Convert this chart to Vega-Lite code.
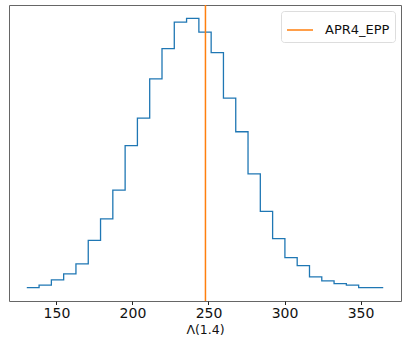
{
  "$schema": "https://vega.github.io/schema/vega-lite/v6.json",
  "width": 392,
  "height": 296,
  "autosize": {"type": "none"},
  "padding": {"left": 9, "top": 5, "right": 6, "bottom": 38},
  "background": "white",
  "config": {
    "view": {"stroke": "#666666", "strokeWidth": 1},
    "font": "DejaVu Sans",
    "axis": {"labelFont": "DejaVu Sans", "titleFont": "DejaVu Sans"},
    "legend": {"labelFont": "DejaVu Sans"}
  },
  "layer": [
    {
      "data": {
        "values": [
          {"edge": 130.5, "count": 38},
          {"edge": 138.58, "count": 45},
          {"edge": 146.67, "count": 61},
          {"edge": 154.75, "count": 79},
          {"edge": 162.83, "count": 109},
          {"edge": 170.92, "count": 180},
          {"edge": 179.0, "count": 245},
          {"edge": 187.08, "count": 331},
          {"edge": 195.17, "count": 465},
          {"edge": 203.25, "count": 548},
          {"edge": 211.33, "count": 666},
          {"edge": 219.42, "count": 757},
          {"edge": 227.5, "count": 837},
          {"edge": 235.58, "count": 848},
          {"edge": 243.67, "count": 807},
          {"edge": 251.75, "count": 745},
          {"edge": 259.83, "count": 608},
          {"edge": 267.92, "count": 507},
          {"edge": 276.0, "count": 380},
          {"edge": 284.08, "count": 267},
          {"edge": 292.17, "count": 185},
          {"edge": 300.25, "count": 128},
          {"edge": 308.33, "count": 104},
          {"edge": 316.42, "count": 70},
          {"edge": 324.5, "count": 58},
          {"edge": 332.58, "count": 50},
          {"edge": 340.67, "count": 45},
          {"edge": 348.75, "count": 38},
          {"edge": 356.83, "count": 38},
          {"edge": 364.92, "count": 38}
        ]
      },
      "mark": {"type": "line", "interpolate": "step-after", "color": "#1f77b4", "strokeWidth": 1.3},
      "encoding": {
        "x": {
          "field": "edge",
          "type": "quantitative",
          "scale": {"domain": [118.8, 376.6], "nice": false, "zero": false},
          "axis": {
            "title": "Λ(1.4)",
            "values": [150, 200, 250, 300, 350],
            "grid": false,
            "domain": false,
            "tickColor": "#222222",
            "tickSize": 3.5,
            "labelFontSize": 14,
            "labelColor": "#111111",
            "labelPadding": 2,
            "titleFontSize": 12.5,
            "titleFontWeight": "normal",
            "titleColor": "#111111",
            "titlePadding": 3
          }
        },
        "y": {
          "field": "count",
          "type": "quantitative",
          "scale": {"domain": [-2.5, 888.5], "nice": false, "zero": false},
          "axis": null
        }
      }
    },
    {
      "data": {"values": [{"value": 248.0, "label": "APR4_EPP"}]},
      "mark": {"type": "rule", "strokeWidth": 1.5},
      "encoding": {
        "x": {"field": "value", "type": "quantitative"},
        "color": {
          "field": "label",
          "type": "nominal",
          "scale": {"domain": ["APR4_EPP"], "range": ["#ff7f0e"]},
          "legend": {
            "title": null,
            "orient": "top-right",
            "offset": 6,
            "symbolType": "stroke",
            "symbolSize": 676,
            "symbolStrokeWidth": 1.5,
            "labelFontSize": 13,
            "labelColor": "#111111",
            "labelOffset": 11,
            "padding": 5,
            "strokeColor": "#dddddd",
            "fillColor": "white",
            "cornerRadius": 3
          }
        }
      }
    }
  ]
}
